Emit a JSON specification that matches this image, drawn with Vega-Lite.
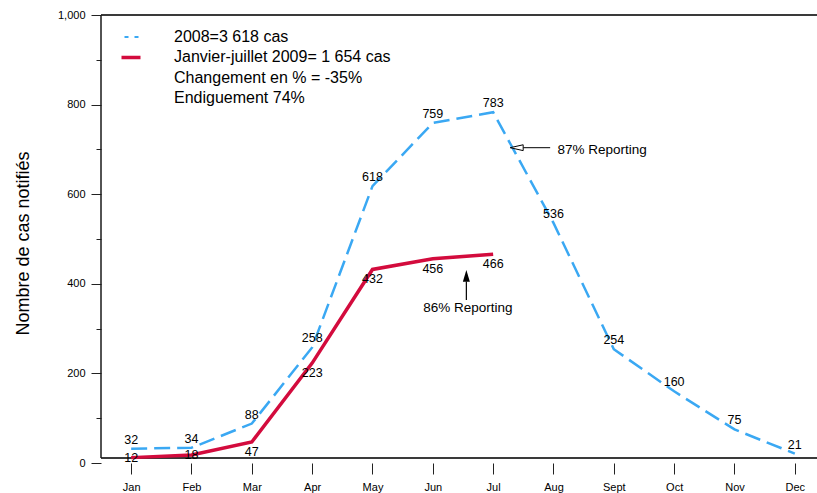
{
  "$schema": "https://vega.github.io/schema/vega-lite/v6.json",
  "width": 716,
  "height": 448,
  "autosize": {"type": "none"},
  "padding": {"left": 101, "top": 15, "right": 0, "bottom": 30},
  "background": "white",
  "config": {"view": {"stroke": null}, "font": "Liberation Sans"},
  "datasets": {
    "cases": [
      {"month": 1, "value": 32, "series": "2008=3 618 cas"},
      {"month": 2, "value": 34, "series": "2008=3 618 cas"},
      {"month": 3, "value": 88, "series": "2008=3 618 cas"},
      {"month": 4, "value": 258, "series": "2008=3 618 cas"},
      {"month": 5, "value": 618, "series": "2008=3 618 cas"},
      {"month": 6, "value": 759, "series": "2008=3 618 cas"},
      {"month": 7, "value": 783, "series": "2008=3 618 cas"},
      {"month": 8, "value": 536, "series": "2008=3 618 cas"},
      {"month": 9, "value": 254, "series": "2008=3 618 cas"},
      {"month": 10, "value": 160, "series": "2008=3 618 cas"},
      {"month": 11, "value": 75, "series": "2008=3 618 cas"},
      {"month": 12, "value": 21, "series": "2008=3 618 cas"},
      {"month": 1, "value": 12, "series": "Janvier-juillet 2009= 1 654 cas"},
      {"month": 2, "value": 18, "series": "Janvier-juillet 2009= 1 654 cas"},
      {"month": 3, "value": 47, "series": "Janvier-juillet 2009= 1 654 cas"},
      {"month": 4, "value": 223, "series": "Janvier-juillet 2009= 1 654 cas"},
      {"month": 5, "value": 432, "series": "Janvier-juillet 2009= 1 654 cas"},
      {"month": 6, "value": 456, "series": "Janvier-juillet 2009= 1 654 cas"},
      {"month": 7, "value": 466, "series": "Janvier-juillet 2009= 1 654 cas"}
    ]
  },
  "data": {"name": "cases"},
  "layer": [
    {
      "data": {"values": [{}]},
      "mark": {"type": "rule", "color": "#3a3a3a", "strokeWidth": 2},
      "encoding": {"y": {"datum": 1000, "type": "quantitative"}}
    },
    {
      "data": {"values": [{}]},
      "mark": {"type": "rule", "color": "#3a3a3a", "strokeWidth": 2},
      "encoding": {"y": {"datum": 11.16, "type": "quantitative"}}
    },
    {
      "data": {"values": [{}]},
      "mark": {"type": "rule", "color": "#1a1a1a", "strokeWidth": 1.5},
      "encoding": {
        "x": {"datum": 0.5, "type": "quantitative"},
        "y": {"datum": 11.16, "type": "quantitative"},
        "y2": {"datum": 1000}
      }
    },
    {
      "transform": [{"filter": "datum.series != '2008=3 618 cas'"}],
      "mark": {"type": "line", "strokeCap": "butt", "strokeWidth": 3.5},
      "encoding": {
        "x": {
          "field": "month",
          "type": "quantitative",
          "scale": {"domain": [0.5, 12.368], "nice": false, "zero": false},
          "axis": {
            "title": null,
            "values": [1, 2, 3, 4, 5, 6, 7, 8, 9, 10, 11, 12],
            "labelExpr": "['', 'Jan', 'Feb', 'Mar', 'Apr', 'May', 'Jun', 'Jul', 'Aug', 'Sept', 'Oct', 'Nov', 'Dec'][datum.value]",
            "domain": false,
            "grid": false,
            "tickSize": 11,
            "tickColor": "#222222",
            "tickWidth": 1,
            "labelFont": "Liberation Sans",
            "labelFontSize": 11,
            "labelColor": "black",
            "labelPadding": 7,
            "labelFlush": false,
            "labelOverlap": false
          }
        },
        "y": {
          "field": "value",
          "type": "quantitative",
          "scale": {"domain": [0, 1000], "nice": false},
          "axis": {
            "title": "Nombre de cas notifiés",
            "values": [0, 100, 200, 300, 400, 500, 600, 700, 800, 900, 1000],
            "labelExpr": "datum.value % 200 == 0 ? (datum.value == 1000 ? '1,000' : datum.label) : ''",
            "domain": false,
            "grid": false,
            "tickSize": {"condition": {"test": "datum.value % 200 == 0", "value": 10}, "value": 5},
            "tickColor": "#222222",
            "tickWidth": 1,
            "labelFont": "Liberation Sans",
            "labelFontSize": 11,
            "labelColor": "black",
            "labelPadding": 6,
            "labelFlush": false,
            "labelOverlap": false,
            "titleFont": "Liberation Sans",
            "titleFontSize": 18,
            "titleFontWeight": "normal",
            "titleColor": "black",
            "titleX": -78,
            "titleY": 228,
            "titleAlign": "center",
            "titleBaseline": "middle",
            "titleAngle": -90
          }
        },
        "color": {
          "field": "series",
          "type": "nominal",
          "scale": {
            "domain": ["2008=3 618 cas", "Janvier-juillet 2009= 1 654 cas", "Changement en % = -35%", "Endiguement 74%"],
            "range": ["#3aa8f3", "#d30b3d", "transparent", "transparent"]
          },
          "legend": {
            "title": null,
            "orient": "none",
            "legendX": 22,
            "legendY": 14,
            "padding": 0,
            "symbolType": "stroke",
            "symbolSize": 361,
            "symbolStrokeWidth": 3,
            "labelFont": "Liberation Sans",
            "labelFontSize": 16,
            "labelColor": "black",
            "labelOffset": 35,
            "labelLimit": 400,
            "rowPadding": 4.4,
            "encode": {
              "symbols": {
                "update": {
                  "strokeDash": {"signal": "datum.value == '2008=3 618 cas' ? [4, 6] : [1, 0]"},
                  "strokeDashOffset": {"signal": "datum.value == '2008=3 618 cas' ? -3 : 0"},
                  "strokeWidth": {"signal": "datum.value == '2008=3 618 cas' ? 2 : 3.5"}
                }
              }
            }
          }
        }
      }
    },
    {
      "transform": [{"filter": "datum.series == '2008=3 618 cas'"}],
      "mark": {"type": "line", "strokeCap": "butt", "strokeWidth": 2.5, "strokeDash": [16, 7]},
      "encoding": {
        "x": {"field": "month", "type": "quantitative"},
        "y": {"field": "value", "type": "quantitative"},
        "color": {"field": "series", "type": "nominal"}
      }
    },
    {
      "transform": [{"filter": "datum.series == '2008=3 618 cas'"}],
      "mark": {"type": "text", "dy": -9, "fontSize": 12.5, "font": "Liberation Sans", "color": "black"},
      "encoding": {
        "x": {"field": "month", "type": "quantitative"},
        "y": {"field": "value", "type": "quantitative"},
        "text": {"field": "value", "type": "quantitative"}
      }
    },
    {
      "transform": [{"filter": "datum.series != '2008=3 618 cas' && datum.month >= 3"}],
      "mark": {"type": "text", "dy": 10, "fontSize": 12.5, "font": "Liberation Sans", "color": "black"},
      "encoding": {
        "x": {"field": "month", "type": "quantitative"},
        "y": {"field": "value", "type": "quantitative"},
        "text": {"field": "value", "type": "quantitative"}
      }
    },
    {
      "transform": [{"filter": "datum.series != '2008=3 618 cas' && datum.month < 3"}],
      "mark": {"type": "text", "dy": 0, "fontSize": 12.5, "font": "Liberation Sans", "color": "black"},
      "encoding": {
        "x": {"field": "month", "type": "quantitative"},
        "y": {"field": "value", "type": "quantitative"},
        "text": {"field": "value", "type": "quantitative"}
      }
    },
    {
      "data": {"values": [{}]},
      "mark": {"type": "rule", "color": "black", "strokeWidth": 1},
      "encoding": {
        "x": {"datum": 7.945, "type": "quantitative"},
        "x2": {"datum": 7.498},
        "y": {"datum": 703.8, "type": "quantitative"}
      }
    },
    {
      "data": {"values": [{}]},
      "mark": {"type": "point", "shape": "M -1 0 L 1 -0.45 L 1 0.45 Z", "size": 169, "filled": true, "fill": "white", "stroke": "black", "strokeWidth": 1, "opacity": 1},
      "encoding": {
        "x": {"datum": 7.39, "type": "quantitative"},
        "y": {"datum": 703.8, "type": "quantitative"}
      }
    },
    {
      "data": {"values": [{}]},
      "mark": {"type": "rule", "color": "black", "strokeWidth": 1.2},
      "encoding": {
        "x": {"datum": 6.556, "type": "quantitative"},
        "y": {"datum": 363.8, "type": "quantitative"},
        "y2": {"datum": 405}
      }
    },
    {
      "data": {"values": [{}]},
      "mark": {"type": "point", "shape": "M 0 -1 L 0.6 1 L -0.6 1 Z", "size": 137, "filled": true, "fill": "black", "stroke": null, "opacity": 1},
      "encoding": {
        "x": {"datum": 6.556, "type": "quantitative"},
        "y": {"datum": 417.7, "type": "quantitative"}
      }
    },
    {
      "data": {"values": [{}]},
      "mark": {"type": "text", "text": "87% Reporting", "align": "left", "baseline": "middle", "fontSize": 13.5, "font": "Liberation Sans", "color": "black"},
      "encoding": {
        "x": {"datum": 8.065, "type": "quantitative"},
        "y": {"datum": 698.7, "type": "quantitative"}
      }
    },
    {
      "data": {"values": [{}]},
      "mark": {"type": "text", "text": "86% Reporting", "align": "center", "baseline": "middle", "fontSize": 13.5, "font": "Liberation Sans", "color": "black"},
      "encoding": {
        "x": {"datum": 6.58, "type": "quantitative"},
        "y": {"datum": 346.7, "type": "quantitative"}
      }
    }
  ]
}
